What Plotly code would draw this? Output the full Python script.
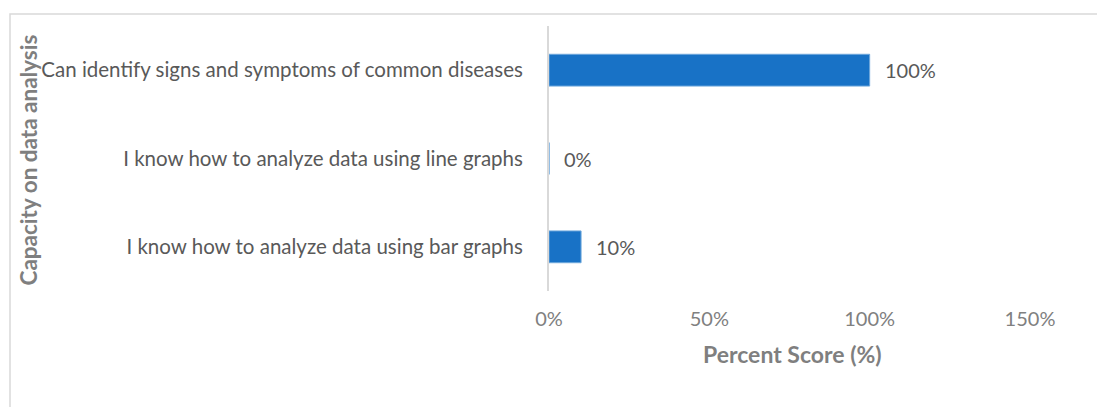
import plotly.graph_objects as go

categories = [
    "I know how to analyze data using bar graphs",
    "I know how to analyze data using line graphs",
    "Can identify signs and symptoms of common diseases",
]
values = [0.10, 0.0, 1.00]
labels = ["10%", "0%", "100%"]
tick_vals = [0, 0.5, 1.0, 1.5]
tick_text = ["0%", "50%", "100%", "150%"]

OFF = 8  # page body margin
W, H = 1105 - OFF, 407 - OFF
L, R, T, B = 549 - OFF, 1030 - OFF, 26 - OFF, 291 - OFF

FONT = "Lato"

fig = go.Figure()
fig.add_trace(go.Bar(
    y=categories, x=values, orientation="h",
    marker=dict(color="#1872C6", line=dict(color="#6FA8DC", width=1)),
    width=0.36, hoverinfo="skip",
))

annotations = []
for c, v, t in zip(categories, values, labels):
    annotations.append(dict(x=v, y=c, xref="x", yref="y", text=t, showarrow=False,
                            xanchor="left", xshift=13,
                            font=dict(family=FONT, size=20, color="#595959")))

def px2paper_x(px):
    return (px - OFF - L) / (R - L)

def px2paper_y(py):
    return (B - (py - OFF)) / (B - T)

annotations.append(dict(x=px2paper_x(28), y=px2paper_y(160.5), xref="paper", yref="paper",
                        text="<b>Capacity on data analysis</b>", showarrow=False, textangle=-90,
                        xanchor="center", yanchor="middle",
                        font=dict(family=FONT, size=22.5, color="#7F7F7F")))
annotations.append(dict(x=px2paper_x(792), y=px2paper_y(354), xref="paper", yref="paper",
                        text="<b>Percent Score (%)</b>", showarrow=False,
                        xanchor="center", yanchor="middle",
                        font=dict(family=FONT, size=23, color="#7F7F7F")))

fig.update_layout(
    width=W, height=H,
    margin=dict(l=L, r=W - R, t=T, b=H - B, pad=0),
    paper_bgcolor="white", plot_bgcolor="white",
    showlegend=False,
    annotations=annotations,
    shapes=[dict(type="rect", xref="paper", yref="paper",
                 x0=px2paper_x(10), x1=px2paper_x(1104),
                 y0=px2paper_y(415), y1=px2paper_y(14),
                 line=dict(color="#D9D9D9", width=1.5), fillcolor="rgba(0,0,0,0)", layer="below")],
    xaxis=dict(range=[0, 1.5], tickvals=tick_vals, ticktext=tick_text,
               showgrid=False, zeroline=False, showline=False, ticks="",
               ticklabelstandoff=14,
               tickfont=dict(family=FONT, size=20, color="#808080"), fixedrange=True),
    yaxis=dict(categoryorder="array", categoryarray=categories,
               showgrid=False, zeroline=False, showline=True, linecolor="#D9D9D9", linewidth=2,
               ticks="", ticklabelstandoff=20,
               tickfont=dict(family=FONT, size=20.5, color="#595959"), fixedrange=True),
)

fig.write_html("out.html", config={"displayModeBar": False})
